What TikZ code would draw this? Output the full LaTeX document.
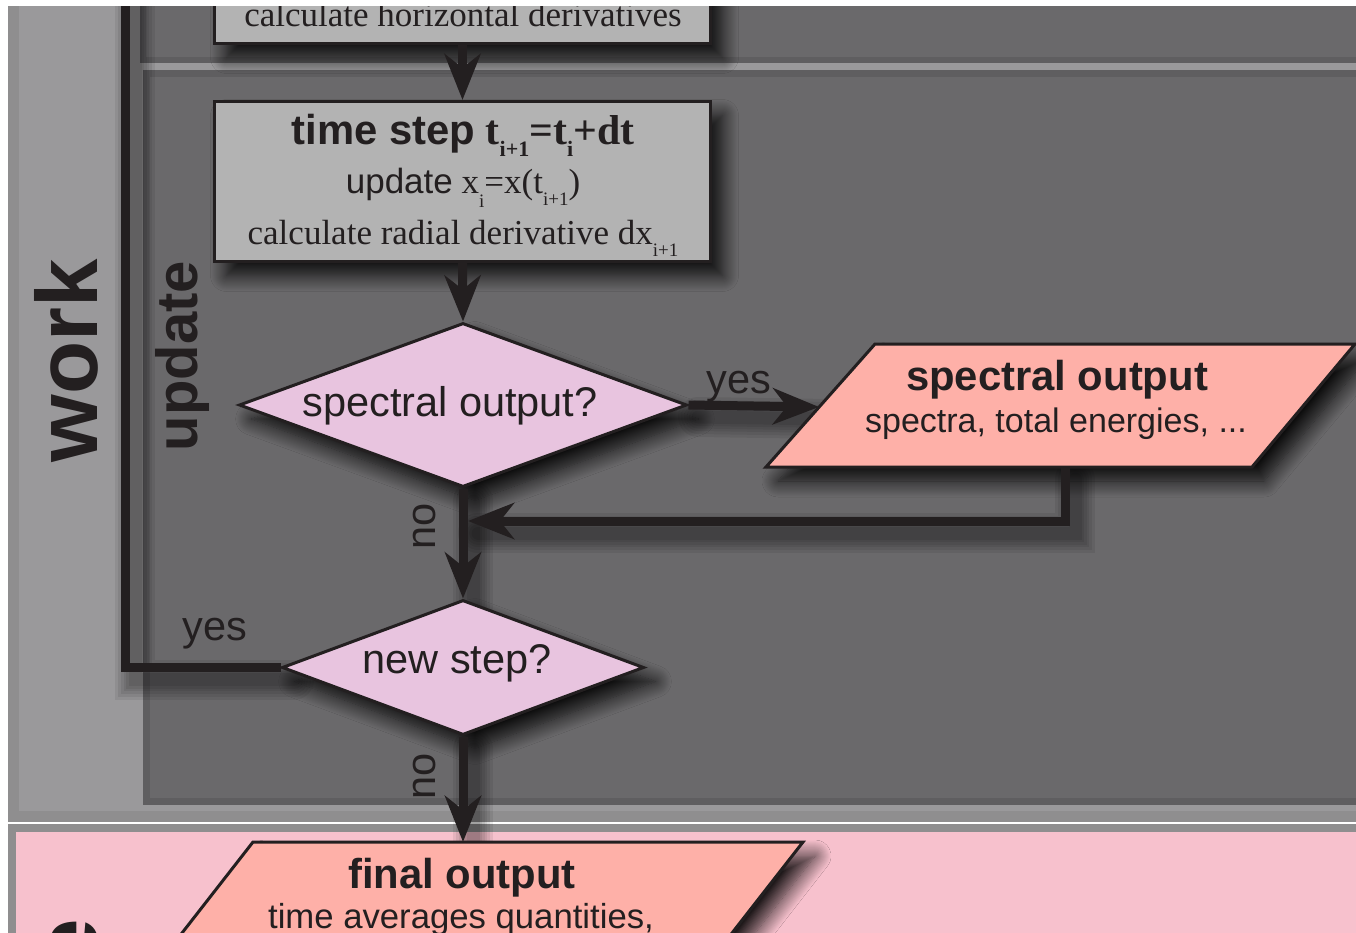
\documentclass[tikz,border=0pt]{standalone}
\usepackage{fontspec}
\setmainfont{Liberation Serif}
\setsansfont{Liberation Sans}
\usetikzlibrary{arrows.meta,shapes.geometric,shadows.blur}
\definecolor{ink}{HTML}{231F20}
\definecolor{workfill}{HTML}{9A999B}
\definecolor{workedge}{HTML}{8F8E8F}
\definecolor{panfill}{HTML}{6A696B}
\definecolor{panedge}{HTML}{5F5E60}
\definecolor{boxgray}{HTML}{B3B3B3}
\definecolor{diafill}{HTML}{E8C4DF}
\definecolor{parafill}{HTML}{FEB0A8}
\definecolor{pinkfill}{HTML}{F7C1CD}
\newcommand{\fsz}[1]{\fontsize{#1}{#1}\selectfont}
\newcommand{\dsub}[3]{\raisebox{-#1pt}{\fontsize{#2}{#2}\selectfont #3}}
\tikzset{
  shade/.style={blur shadow={shadow xshift=12pt,shadow yshift=-14pt,shadow blur radius=16pt,shadow blur steps=16,shadow opacity=88}},
  lsh/.style={preaction={draw=black,draw opacity=0.07,line width=#1,line cap=round,arrows=-,transform canvas={xshift=10pt,yshift=-12pt}}},
  lineshade/.style={lsh=40pt,lsh=34pt,lsh=28pt,lsh=23pt,lsh=18pt,lsh=13pt},
  conn/.style={draw=ink,line width=9pt,line join=miter},
  arr/.style={conn,-{Stealth[length=46pt,width=36pt,inset=14pt]}},
  box/.style={rectangle,draw=ink,line width=3pt,fill=boxgray,inner sep=0pt,shade},
  dia/.style={diamond,draw=ink,line width=3pt,fill=diafill,inner sep=0pt,shade},
  para/.style={draw=ink,line width=3pt,fill=parafill,line join=miter,shade},
  txt/.style={inner sep=0pt,anchor=base,text=ink},
  lbl/.style={txt,font=\sffamily\fsz{41.5}},
  panlbl/.style={txt,rotate=90,font=\sffamily\bfseries}
}
\begin{document}
\begin{tikzpicture}[x=1pt,y=-1pt]
\useasboundingbox (0,0) rectangle (1356,933);
\fill[white] (0,0) rectangle (1356,933);
\begin{scope}
\clip (8,7) rectangle (1356,933);
% panels
\draw[draw=workedge,fill=workfill,line width=11pt] (13.5,-60) rectangle (1420,816.5);
\draw[draw=panedge,fill=panfill,line width=6pt] (143,-60) rectangle (1420,60);
\draw[draw=panedge,fill=panfill,line width=7pt] (146.5,73.5) rectangle (1420,801.5);
\draw[draw=workedge,fill=pinkfill,line width=7.5pt] (11.75,827.75) rectangle (1420,1060);
% panel labels
\node[panlbl,font=\sffamily\bfseries\fsz{87}] (worklbl) at (97,361) {work};
\node[panlbl,font=\sffamily\bfseries\fsz{58}] (updlbl) at (197,356) {update};
\node[panlbl,font=\sffamily\bfseries\fsz{87}] (finlbl) at (97,943) {e};
% coordinates for connectors
\coordinate (spIn) at (819,407);
\coordinate (spOut) at (1065,467);
\coordinate (spTurn) at (1065,521);
\coordinate (merge) at (468,521);
\coordinate (loopTop) at (125,-30);
\coordinate (foTop) at (463,842);
\coordinate (sdBot) at (463,489);
\coordinate (nsTop) at (463,598);
\coordinate (nsBot) at (463,737);
\coordinate (nsLeft) at (284,667.5);
\coordinate (sdRight) at (688,405);
% connector shadows (drawn first)
\path[lineshade] (spOut) -- (spTurn) -- (merge);
\path[lineshade] (sdBot) -- (nsTop);
\path[lineshade] (nsBot) -- (foTop);
\path[lineshade] (nsLeft) -| (loopTop);
\path[lineshade] (sdRight) -- (spIn);
% top box
\node[box,minimum width=496pt,minimum height=100pt] (hd) at (462.5,-6.5) {};
\node[txt,font=\fsz{35}] (hdtxt) at (463,27) {calculate horizontal derivatives};
% time step box
\node[box,minimum width=496pt,minimum height=160pt] (ts) at (462.5,181.5) {};
\node[txt,font=\fsz{41.8}] (ts1) at (463,145) {{\sffamily\bfseries time step} {\bfseries t\dsub{12}{22}{i+1}=t\dsub{12}{22}{i}+dt}};
\node[txt,font=\fsz{35}] (ts2) at (463,194) {{\sffamily update} x\dsub{14}{19}{i}=x(t\dsub{12}{19}{i+1})};
\node[txt,font=\fsz{35}] (ts3) at (463,244) {calculate radial derivative dx\dsub{12}{19}{i+1}};
% spectral decision
\node[dia,minimum width=448pt,minimum height=164pt] (sd) at (463,405) {};
\node[lbl] (sdtxt) at (450,416) {spectral output?};
% spectral output parallelogram
\path[para] (766,467) -- (875,344) -- (1355,344) -- (1252,467) -- cycle;
\node[txt,font=\sffamily\bfseries\fsz{41.8}] (sptitle) at (1057,390) {spectral output};
\node[txt,font=\sffamily\fsz{34}] (spsub) at (1056,432) {spectra, total energies, ...};
% new step decision
\node[dia,minimum width=362pt,minimum height=135pt] (ns) at (463,667.5) {};
\node[lbl] (nstxt) at (457,673) {new step?};
% final output parallelogram
\path[para] (253,842) -- (803,842) -- (647,1042) -- (97,1042) -- cycle;
\node[txt,font=\sffamily\bfseries\fsz{41.8}] (fotitle) at (462,888) {final output};
\node[txt,font=\sffamily\fsz{34.7}] (fosub) at (461,928) {time averages quantities,};
% connectors
\draw[arr] (hd.south) -- (ts.north);
\draw[arr] (ts.south) -- (sd.north);
\draw[arr] (sd.east) -- (spIn);
\draw[arr] (spOut) -- (spTurn) -- (merge);
\draw[arr] (sd.south) -- (ns.north);
\draw[conn] (ns.west) -| (loopTop);
\draw[arr] (ns.south) -- (foTop);
% connector labels
\node[lbl] (yes1) at (739,393) {yes};
\node[lbl] (yes2) at (215,640) {yes};
\node[lbl,rotate=90] (no1) at (435,526) {no};
\node[lbl,rotate=90] (no2) at (435,776) {no};
\end{scope}
\end{tikzpicture}
\end{document}
